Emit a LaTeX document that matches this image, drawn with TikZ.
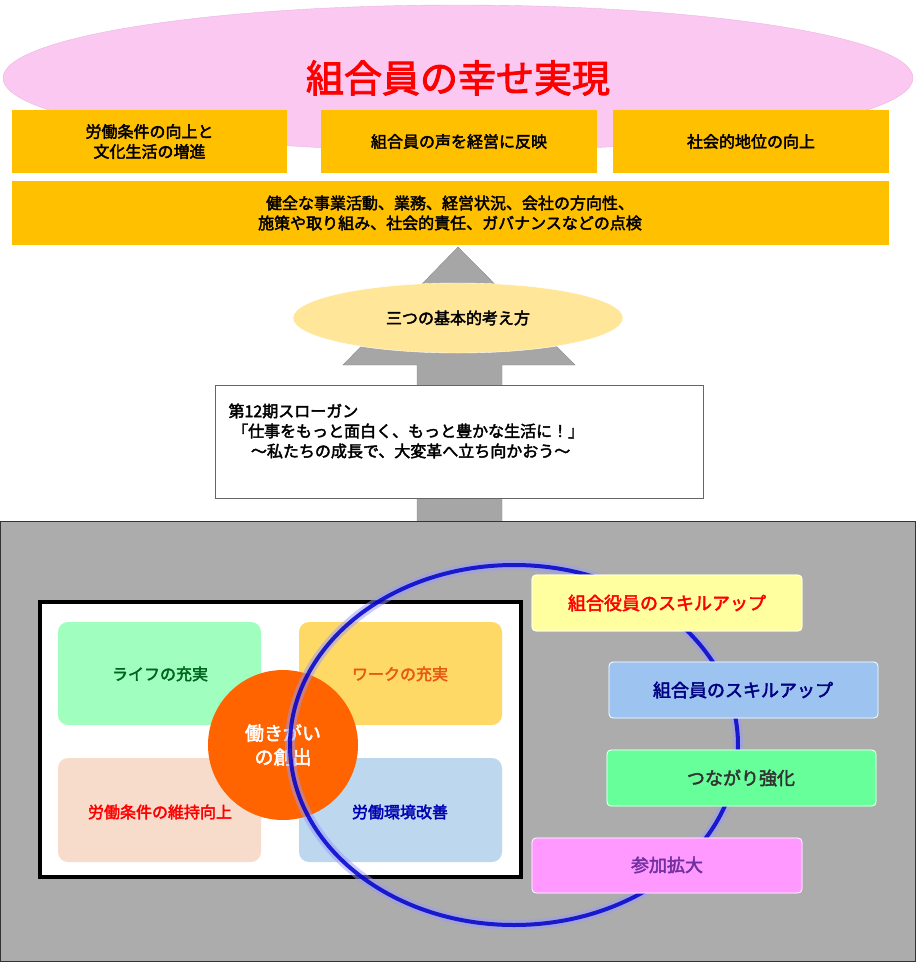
\documentclass[tikz,border=0pt]{standalone}
\usepackage{fontspec}
\setmainfont{Noto Sans CJK JP}[AutoFakeBold=2.5]
\definecolor{org}{HTML}{FFC000}
\definecolor{pinkf}{RGB}{250,200,240}
\definecolor{pinkd}{RGB}{235,180,225}
\definecolor{yel}{RGB}{255,230,153}
\definecolor{lgreen}{RGB}{160,255,190}
\definecolor{dgreen}{RGB}{0,100,30}
\definecolor{lyel}{RGB}{255,217,102}
\definecolor{ored}{RGB}{230,90,20}
\definecolor{peach}{RGB}{248,220,203}
\definecolor{lblue}{RGB}{189,215,238}
\definecolor{orc}{RGB}{255,100,0}
\definecolor{s1c}{RGB}{255,255,160}
\definecolor{s2c}{RGB}{157,195,240}
\definecolor{s3c}{RGB}{102,255,153}
\definecolor{s4c}{RGB}{255,153,255}
\definecolor{purp}{RGB}{112,48,160}
\begin{document}
\begin{tikzpicture}[x=1pt,y=-1pt,
 rbox/.style={rounded corners=10pt,draw=none},
 sbox/.style={rounded corners=4pt,draw=white,line width=0.8pt},
 txt/.style={font=\fontsize{16}{20}\selectfont\bfseries,align=center},
 big/.style={font=\fontsize{18}{22}\selectfont\bfseries}]
\useasboundingbox (0,0) rectangle (916,962);
\fill[fill=pinkf,draw=pinkd] (458,78) ellipse (455 and 73);
\node[font=\fontsize{38}{44}\selectfont\bfseries,text=red] (title) at (458,78) {組合員の幸せ実現};
\foreach \a/\b/\t/\n in {12/287/{労働条件の向上と\\文化生活の増進}/b1,321/597/{組合員の声を経営に反映}/b2,613/889/{社会的地位の向上}/b3}{
 \fill[org] (\a,110) rectangle (\b,173);
 \node[txt] (\n) at ({(\a+\b)/2},141.5) {\t};}
\fill[org] (12,181) rectangle (889,245);
\node[txt] (wide) at (450,213) {健全な事業活動、業務、経営状況、会社の方向性、\\施策や取り組み、社会的責任、ガバナンスなどの点検};
\fill[gray!70,draw=gray!90] (417,525) -- (417,365) -- (343,365) -- (458,247) -- (575,365) -- (502,365) -- (502,525) -- cycle;
\fill[yel,draw=white] (458,318) ellipse (165 and 35);
\node[txt] (base) at (458,318) {三つの基本的考え方};
\draw[fill=white,draw=gray!80!black] (215,385) rectangle (703,498);
\node[txt,align=left,anchor=north west] (slogan) at (225,400) {第12期スローガン\\\ 「仕事をもっと面白く、もっと豊かな生活に！」\\\hspace{1.4em}～私たちの成長で、大変革へ立ち向かおう～};
\fill[gray!65,draw=gray!40!black,line width=0.8pt] (0,521) rectangle (915,961);
\draw[fill=white,line width=3.5pt] (40,602) rectangle (521,877);
\fill[rbox,lgreen] (58,622) rectangle (261,725);
\node[txt,text=dgreen] (life) at (160,674) {ライフの充実};
\fill[rbox,lyel] (299,622) rectangle (502,725);
\node[txt,text=ored] (work) at (400,674) {ワークの充実};
\fill[rbox,peach] (58,758) rectangle (261,862);
\node[txt,text=red] (cond) at (160,812) {労働条件の維持向上};
\fill[rbox,lblue] (299,758) rectangle (502,862);
\node[txt,text=blue!70!black] (env) at (400,812) {労働環境改善};
\fill[orc] (283,745) circle (75);
\node[txt,text=white,font=\fontsize{19}{24}\selectfont\bfseries] (core) at (283,745) {働きがい\\の創出};
\draw[blue!40,line width=10pt,opacity=0.5] (514,745) ellipse (224 and 180);
\draw[blue!80!black,line width=4pt,opacity=0.85] (514,745) ellipse (224 and 180);
\fill[sbox,s1c] (532,575) rectangle (802,631);
\draw[sbox] (532,575) rectangle (802,631);
\node[big,text=red] (s1) at (667,603) {組合役員のスキルアップ};
\fill[sbox,s2c] (609,662) rectangle (878,718);
\draw[sbox] (609,662) rectangle (878,718);
\node[big,text=blue!50!black] (s2) at (743,690) {組合員のスキルアップ};
\fill[sbox,s3c] (607,750) rectangle (876,806);
\draw[sbox] (607,750) rectangle (876,806);
\node[big,text=black!80] (s3) at (741,778) {つながり強化};
\fill[sbox,s4c] (532,838) rectangle (802,893);
\draw[sbox] (532,838) rectangle (802,893);
\node[big,text=purp] (s4) at (667,865) {参加拡大};
\end{tikzpicture}
\end{document}
